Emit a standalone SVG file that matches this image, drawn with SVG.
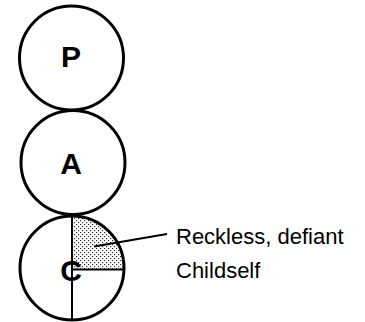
<svg xmlns="http://www.w3.org/2000/svg" width="365" height="322" viewBox="0 0 365 322">
<style>
.ring{fill:none;stroke:#000;stroke-width:3}
.lbl{font-family:"Liberation Sans",Arial,sans-serif;font-weight:bold;font-size:30px;text-anchor:middle;fill:#000}
.txt{font-family:"Liberation Sans",Arial,sans-serif;font-size:22px;fill:#000}
.ln{stroke:#000;stroke-width:2;fill:none}
</style>
<defs>
<pattern id="dots" width="4" height="4" patternUnits="userSpaceOnUse">
<rect x="0" y="0" width="1.2" height="1.2" fill="#333"/>
<rect x="2" y="2" width="1.2" height="1.2" fill="#333"/>
</pattern>
</defs>
<rect width="365" height="322" fill="#fff"/>
<g id="node-P">
<circle class="ring" cx="71.5" cy="58" r="52"/>
<text class="lbl" x="71" y="66.5">P</text>
</g>
<g id="node-A">
<circle class="ring" cx="73" cy="162.5" r="52"/>
<text class="lbl" x="71" y="173.5">A</text>
</g>
<g id="node-C">
<path d="M72,269 V216.5 A52,52 0 0 1 123.5,269 Z" fill="url(#dots)"/>
<text class="lbl" x="71" y="280.5">C</text>
<circle class="ring" cx="72" cy="268" r="52"/>
<line class="ln" x1="72" y1="216" x2="72" y2="320"/>
<line class="ln" x1="72" y1="269.5" x2="123" y2="269.5"/>
</g>
<g id="connectors">
<line class="ln" x1="94" y1="246.5" x2="167" y2="234" stroke-width="1.5"/>
</g>
<g id="label">
<text class="txt" x="176" y="243.5">Reckless, defiant</text>
<text class="txt" x="176" y="277.5">Childself</text>
</g>
</svg>
